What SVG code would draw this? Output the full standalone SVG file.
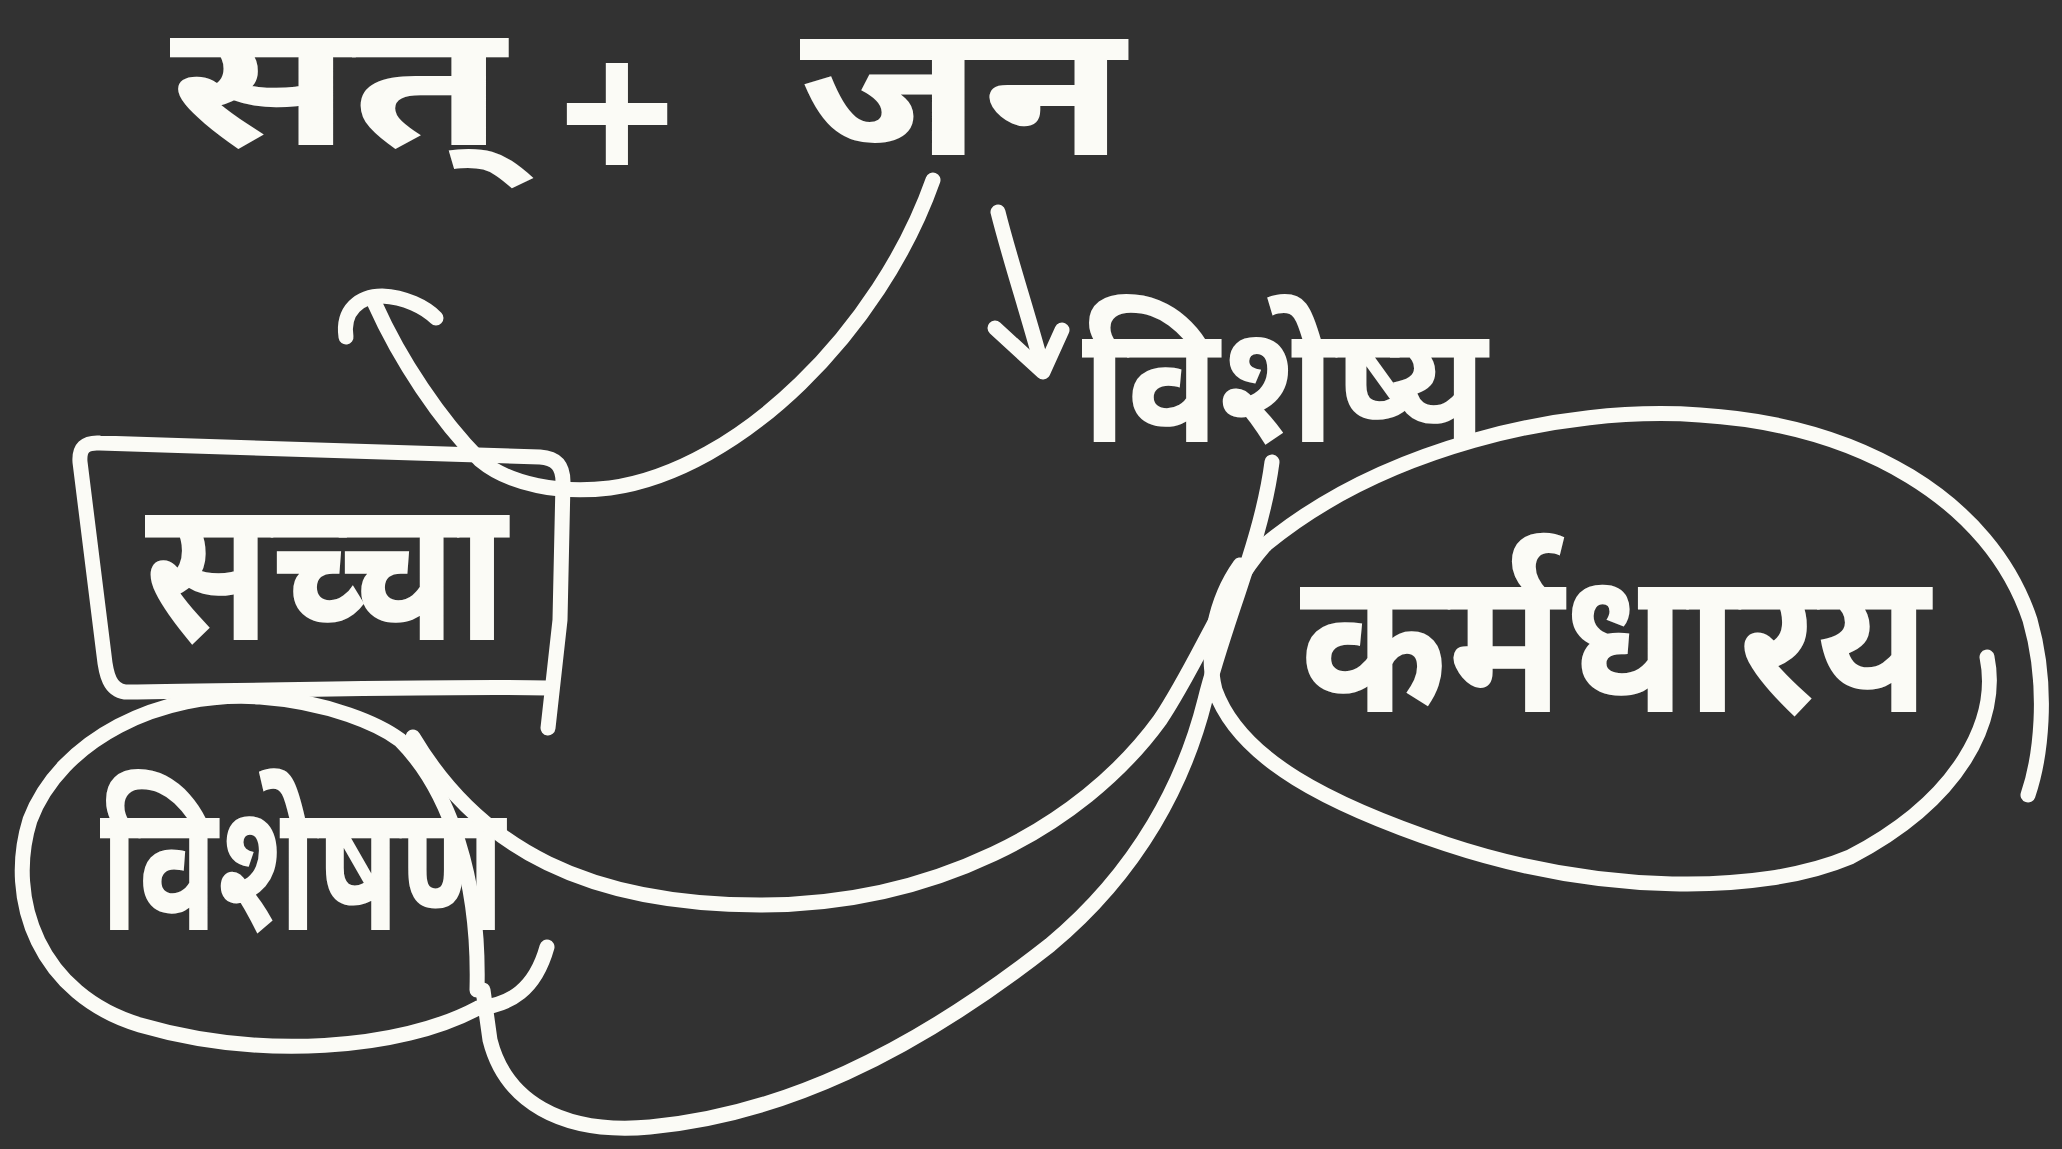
<svg xmlns="http://www.w3.org/2000/svg" width="2062" height="1149" viewBox="0 0 2062 1149">
<style>
.s{fill:none;stroke:#fbfbf6;stroke-width:15;stroke-linecap:round;stroke-linejoin:round}
.t{fill:#fbfbf6;font-family:"Liberation Mono","Noto Sans Devanagari","Noto Sans",sans-serif;font-weight:bold}
.p{fill:#fbfbf6;font-family:"Liberation Sans",sans-serif;font-weight:bold}
</style>
<rect width="2062" height="1149" fill="#323232"/>
<g id="title">
<text class="t" x="170" y="145" font-size="172" textLength="335" lengthAdjust="spacingAndGlyphs">सत्</text>
<text class="p" x="617" y="181" font-size="200" text-anchor="middle">+</text>
<text class="t" x="800" y="155" font-size="186" textLength="325" lengthAdjust="spacingAndGlyphs">जन</text>
</g>
<g id="sachcha">
<path class="s" d="M547,688 C450,686 300,690 125,692 C110,690 106,675 104,655 L80,462 C79,448 85,442 100,443 L540,457 C556,458 563,466 563,482 L560,620 L548,728"/>
<text class="t" x="145" y="640" font-size="200" textLength="362" lengthAdjust="spacingAndGlyphs">सच्चा</text>
</g>
<g id="visheshya">
<text class="t" x="1082" y="442" font-size="165" textLength="405" lengthAdjust="spacingAndGlyphs">विशेष्य</text>
</g>
<g id="visheshan">
<path class="s" d="M547,947 C535,990 510,1005 478,1008 C400,1050 260,1060 140,1025 C40,995 5,900 30,820 C60,740 160,690 260,697 C330,702 380,725 400,740 C450,790 480,880 477,990"/>
<text class="t" x="100" y="930" font-size="180" textLength="405" lengthAdjust="spacingAndGlyphs">विशेषण</text>
</g>
<g id="karmadharaya">
<path class="s" d="M1265,545 C1380,450 1560,405 1700,415 C1860,425 1990,500 2030,620 C2050,690 2040,760 2028,795"/>
<path class="s" d="M1987,657 C2000,720 1960,800 1850,857 C1760,895 1600,895 1446,844 C1330,805 1240,760 1215,690 C1205,650 1215,600 1240,565"/>
<text class="t" x="1300" y="712" font-size="200" textLength="630" lengthAdjust="spacingAndGlyphs">कर्मधारय</text>
</g>
<g id="connectors">
<path class="s" d="M933,180 C880,330 740,470 610,488 C560,494 510,485 480,460 C440,420 400,360 375,304"/>
<path class="s" d="M346,337 C342,310 360,296 382,296 C405,297 425,307 436,318"/>
<path class="s" d="M998,212 C1010,260 1030,320 1043,370"/>
<path class="s" d="M995,328 L1043,372 L1062,330"/>
<path class="s" d="M413,737 C480,850 590,905 760,905 C930,905 1080,830 1160,720 C1200,660 1225,590 1265,545"/>
<path class="s" d="M1272,462 C1262,540 1225,620 1205,700 C1185,780 1140,870 1050,945 C910,1055 780,1115 650,1127 C560,1135 505,1100 490,1040 L483,990"/>
</g>
</svg>
